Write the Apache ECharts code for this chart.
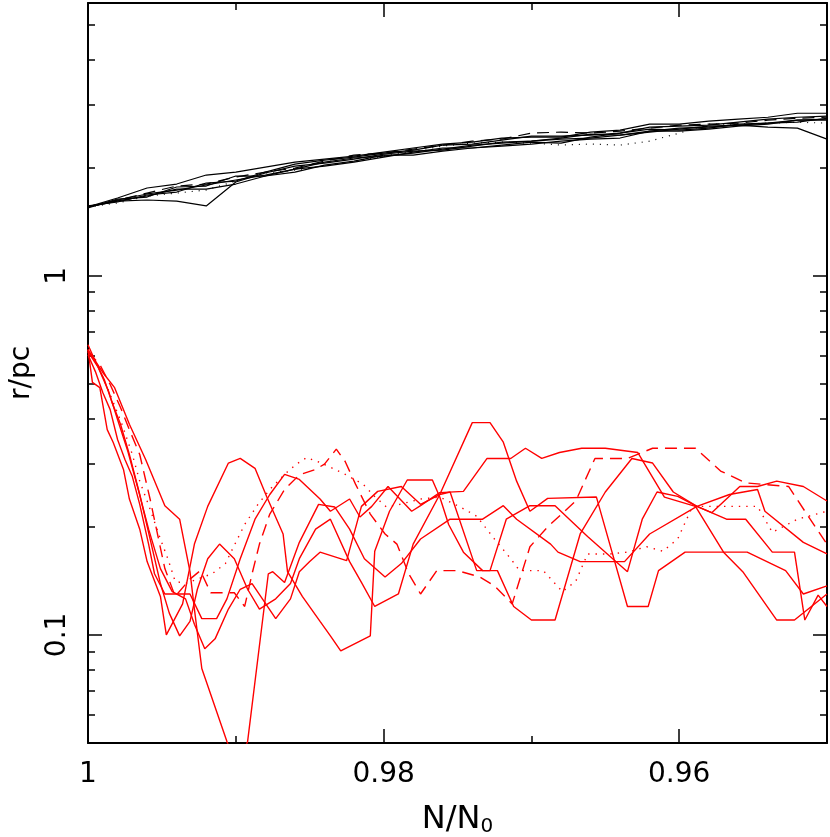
<!DOCTYPE html>
<html>
<head>
<meta charset="utf-8">
<title>r/pc vs N/N0</title>
<script src="https://cdn.jsdelivr.net/npm/echarts@6.0.0/dist/echarts.min.js"></script>
<style>
	html, body { margin: 0; padding: 0; background: #fff; }
	#chart { width: 830px; height: 837px; }
</style>
</head>
<body>
<div id="chart"></div>
<script>
	/* axis ranges and ticks */
	var xRange = [0.95, 1];
	var yRange = [0.05, 5.75];
	var xMajor = [0.98, 0.96];
	var xMinor = [0.99, 0.97];
	var xLabels = [1, 0.98, 0.96];
	var yMajor = [0.1, 1];
	var yMinor = [0.06, 0.07, 0.08, 0.09, 0.2, 0.3, 0.4, 0.5, 0.6, 0.7, 0.8, 0.9, 2, 3, 4, 5];
	var yLabels = [0.1, 1];

	/* upper (black) curves, all on the same N/N0 grid */
	var blackX = [1.000, 0.998, 0.996, 0.994, 0.992, 0.990, 0.988, 0.986, 0.984, 0.982, 0.980, 0.978, 0.976,
		0.974, 0.972, 0.970, 0.968, 0.966, 0.964, 0.962, 0.960, 0.958, 0.956, 0.954, 0.952, 0.950];
	var black1 = [1.555, 1.615, 1.626, 1.615, 1.565, 1.825, 1.933, 2.021, 2.060, 2.113, 2.182, 2.225, 2.239,
		2.298, 2.357, 2.372, 2.403, 2.419, 2.465, 2.529, 2.578, 2.594, 2.627, 2.661, 2.712, 2.730];
	var black2 = [1.555, 1.647, 1.756, 1.801, 1.908, 1.945, 2.008, 2.073, 2.113, 2.154, 2.211, 2.269, 2.327,
		2.357, 2.419, 2.434, 2.434, 2.513, 2.545, 2.644, 2.644, 2.696, 2.730, 2.764, 2.836, 2.836];
	var black3 = [1.555, 1.626, 1.690, 1.733, 1.790, 1.848, 1.908, 1.982, 2.073, 2.128, 2.154, 2.197, 2.254,
		2.312, 2.342, 2.371, 2.419, 2.480, 2.465, 2.513, 2.561, 2.612, 2.627, 2.594, 2.578, 2.403];
	var black4 = [1.545, 1.636, 1.657, 1.767, 1.778, 1.896, 1.896, 1.945, 2.034, 2.086, 2.168, 2.168, 2.225,
		2.269, 2.297, 2.327, 2.371, 2.403, 2.419, 2.528, 2.528, 2.561, 2.612, 2.644, 2.712, 2.712];
	var black5 = [1.565, 1.605, 1.679, 1.711, 1.813, 1.836, 1.945, 2.047, 2.100, 2.141, 2.197, 2.239, 2.312,
		2.327, 2.387, 2.448, 2.448, 2.465, 2.497, 2.594, 2.612, 2.627, 2.678, 2.730, 2.764, 2.783];
	var black6 = [1.555, 1.616, 1.668, 1.744, 1.744, 1.801, 1.896, 1.982, 2.021, 2.073, 2.141, 2.211, 2.269,
		2.269, 2.312, 2.357, 2.342, 2.434, 2.497, 2.561, 2.545, 2.578, 2.644, 2.661, 2.678, 2.746];
	var blackDot = [1.555, 1.595, 1.668, 1.700, 1.733, 1.836, 1.933, 1.970, 2.021, 2.086, 2.154, 2.225, 2.297,
		2.342, 2.357, 2.342, 2.312, 2.327, 2.312, 2.371, 2.497, 2.644, 2.644, 2.661, 2.678, 2.661];
	var blackDash = [1.555, 1.626, 1.700, 1.778, 1.801, 1.884, 1.945, 1.995, 2.086, 2.168, 2.197, 2.254, 2.312,
		2.371, 2.403, 2.497, 2.513, 2.497, 2.528, 2.578, 2.627, 2.644, 2.661, 2.712, 2.746, 2.764];

	/* lower (red) curves, [N/N0, r] */
	var redA = [[1.0000, 0.623], [0.9997, 0.505], [0.9992, 0.488], [0.9987, 0.373], [0.9983, 0.344], [0.9976, 0.289],
		[0.9972, 0.239], [0.9965, 0.197], [0.9960, 0.160], [0.9951, 0.128], [0.9947, 0.100], [0.9936, 0.122],
		[0.9928, 0.179], [0.9919, 0.228], [0.9905, 0.301], [0.9897, 0.310], [0.9887, 0.291], [0.9879, 0.242],
		[0.9868, 0.191], [0.9865, 0.150], [0.9855, 0.128], [0.9843, 0.109], [0.9836, 0.0994], [0.9829, 0.0903],
		[0.9809, 0.0994], [0.9806, 0.171], [0.9796, 0.221], [0.9784, 0.270], [0.9767, 0.270], [0.9762, 0.242],
		[0.9756, 0.203], [0.9746, 0.170], [0.9733, 0.151], [0.9723, 0.151], [0.9712, 0.120], [0.9700, 0.110],
		[0.9684, 0.110], [0.9667, 0.191], [0.9650, 0.250], [0.9632, 0.310], [0.9618, 0.301], [0.9604, 0.250],
		[0.9588, 0.228], [0.9578, 0.219], [0.9559, 0.259], [0.9547, 0.259], [0.9534, 0.268], [0.9516, 0.259],
		[0.9500, 0.236]];
	var redB = [[1.0000, 0.643], [0.9995, 0.577], [0.9989, 0.514], [0.9984, 0.447], [0.9978, 0.386], [0.9972, 0.318],
		[0.9965, 0.246], [0.9958, 0.185], [0.9951, 0.139], [0.9945, 0.115], [0.9938, 0.0994], [0.9931, 0.109],
		[0.9926, 0.134], [0.9919, 0.163], [0.9911, 0.179], [0.9901, 0.163], [0.9892, 0.134], [0.9884, 0.118],
		[0.9873, 0.126], [0.9863, 0.139], [0.9857, 0.163], [0.9846, 0.197], [0.9836, 0.210], [0.9823, 0.160],
		[0.9815, 0.140], [0.9806, 0.120], [0.9790, 0.130], [0.9780, 0.179], [0.9762, 0.246], [0.9740, 0.390],
		[0.9728, 0.390], [0.9719, 0.344], [0.9710, 0.268], [0.9701, 0.221], [0.9689, 0.240], [0.9656, 0.242],
		[0.9635, 0.120], [0.9621, 0.120], [0.9614, 0.151], [0.9596, 0.170], [0.9554, 0.170], [0.9528, 0.151],
		[0.9516, 0.130], [0.9500, 0.137]];
	var redC = [[1.0000, 0.603], [0.9995, 0.541], [0.9990, 0.473], [0.9985, 0.424], [0.9980, 0.350], [0.9975, 0.308],
		[0.9970, 0.276], [0.9965, 0.231], [0.9959, 0.179], [0.9955, 0.148], [0.9948, 0.130], [0.9931, 0.130],
		[0.9923, 0.111], [0.9913, 0.111], [0.9906, 0.126], [0.9897, 0.163], [0.9887, 0.210], [0.9877, 0.246],
		[0.9867, 0.280], [0.9857, 0.271], [0.9843, 0.239], [0.9836, 0.221], [0.9823, 0.239], [0.9816, 0.213],
		[0.9808, 0.228], [0.9797, 0.259], [0.9781, 0.221], [0.9775, 0.229], [0.9762, 0.249], [0.9746, 0.251],
		[0.9730, 0.310], [0.9714, 0.310], [0.9704, 0.331], [0.9693, 0.310], [0.9681, 0.322], [0.9666, 0.331],
		[0.9650, 0.331], [0.9628, 0.322], [0.9610, 0.242], [0.9589, 0.228], [0.9570, 0.170], [0.9557, 0.150],
		[0.9534, 0.110], [0.9522, 0.110], [0.9500, 0.130]];
	var redD = [[1.0000, 0.615], [0.9993, 0.555], [0.9986, 0.476], [0.9980, 0.398], [0.9973, 0.324], [0.9966, 0.254],
		[0.9959, 0.197], [0.9951, 0.153], [0.9943, 0.132], [0.9934, 0.126], [0.9928, 0.107], [0.9921, 0.0915],
		[0.9914, 0.0975], [0.9905, 0.118], [0.9897, 0.134], [0.9889, 0.139], [0.9882, 0.126], [0.9873, 0.111],
		[0.9863, 0.126], [0.9857, 0.150], [0.9850, 0.160], [0.9843, 0.170], [0.9825, 0.161], [0.9815, 0.228],
		[0.9804, 0.251], [0.9788, 0.259], [0.9775, 0.231], [0.9762, 0.246], [0.9755, 0.250], [0.9737, 0.151],
		[0.9728, 0.151], [0.9717, 0.210], [0.9701, 0.229], [0.9684, 0.229], [0.9662, 0.188], [0.9645, 0.163],
		[0.9635, 0.150], [0.9625, 0.210], [0.9615, 0.250], [0.9601, 0.243], [0.9588, 0.228], [0.9566, 0.246],
		[0.9547, 0.254], [0.9542, 0.221], [0.9516, 0.181], [0.9500, 0.168]];
	var redE = [[1.0000, 0.623], [0.9990, 0.538], [0.9982, 0.488], [0.9972, 0.386], [0.9961, 0.308], [0.9948, 0.229],
		[0.9938, 0.210], [0.9931, 0.150], [0.9928, 0.118], [0.9923, 0.0806], [0.9906, 0.0505], [0.9899, 0.0427],
		[0.9892, 0.0505], [0.9878, 0.148], [0.9875, 0.150], [0.9867, 0.140], [0.9857, 0.181], [0.9844, 0.231],
		[0.9833, 0.227], [0.9823, 0.197], [0.9813, 0.163], [0.9799, 0.145], [0.9788, 0.158], [0.9775, 0.185],
		[0.9755, 0.210], [0.9733, 0.210], [0.9719, 0.229], [0.9710, 0.210], [0.9687, 0.179], [0.9682, 0.170],
		[0.9667, 0.160], [0.9637, 0.160], [0.9620, 0.191], [0.9588, 0.228], [0.9568, 0.210], [0.9555, 0.210],
		[0.9537, 0.170], [0.9522, 0.170], [0.9515, 0.110], [0.9506, 0.129], [0.9500, 0.120]];
	var redDot = [[1.0000, 0.623], [0.9992, 0.548], [0.9985, 0.467], [0.9977, 0.386], [0.9970, 0.318], [0.9965, 0.268],
		[0.9958, 0.224], [0.9951, 0.185], [0.9946, 0.163], [0.9941, 0.141], [0.9934, 0.139], [0.9926, 0.143],
		[0.9916, 0.148], [0.9907, 0.158], [0.9903, 0.171], [0.9894, 0.203], [0.9885, 0.231], [0.9877, 0.254],
		[0.9867, 0.280], [0.9859, 0.299], [0.9852, 0.312], [0.9844, 0.303], [0.9836, 0.293], [0.9826, 0.280],
		[0.9814, 0.263], [0.9806, 0.243], [0.9798, 0.227], [0.9789, 0.231], [0.9775, 0.239], [0.9762, 0.242],
		[0.9748, 0.227], [0.9737, 0.214], [0.9725, 0.185], [0.9714, 0.163], [0.9708, 0.151], [0.9692, 0.151],
		[0.9679, 0.132], [0.9670, 0.141], [0.9662, 0.168], [0.9647, 0.168], [0.9635, 0.170], [0.9622, 0.176],
		[0.9611, 0.171], [0.9601, 0.185], [0.9591, 0.228], [0.9547, 0.228], [0.9537, 0.193], [0.9520, 0.210],
		[0.9500, 0.221]];
	var redDash = [[1.0000, 0.615], [0.9992, 0.566], [0.9985, 0.498], [0.9978, 0.430], [0.9972, 0.373], [0.9965, 0.318],
		[0.9958, 0.239], [0.9953, 0.191], [0.9948, 0.153], [0.9941, 0.128], [0.9931, 0.143], [0.9924, 0.151],
		[0.9917, 0.131], [0.9901, 0.131], [0.9894, 0.120], [0.9889, 0.148], [0.9884, 0.179], [0.9877, 0.217],
		[0.9867, 0.254], [0.9857, 0.279], [0.9846, 0.289], [0.9840, 0.299], [0.9832, 0.329], [0.9826, 0.304],
		[0.9819, 0.263], [0.9809, 0.217], [0.9799, 0.191], [0.9791, 0.179], [0.9783, 0.148], [0.9775, 0.130],
		[0.9764, 0.151], [0.9750, 0.151], [0.9735, 0.145], [0.9725, 0.137], [0.9713, 0.122], [0.9701, 0.176],
		[0.9689, 0.200], [0.9670, 0.236], [0.9657, 0.310], [0.9635, 0.310], [0.9618, 0.331], [0.9589, 0.331],
		[0.9572, 0.286], [0.9555, 0.265], [0.9526, 0.259], [0.9514, 0.218], [0.9500, 0.179]];

	var FONT = 'DejaVu Sans';
	var myChart = echarts.init(document.getElementById('chart'), null, { renderer: 'canvas' });

	/*one x axis: a tick set on top or bottom*/
	function xAxisPart(pos, ticks, len, withLine, withLabel) {
		return {
			type: 'value',
			position: pos,
			inverse: true,
			min: xRange[0],
			max: xRange[1],
			axisLine: { show: withLine, onZero: false, lineStyle: { color: '#000', width: 2 } },
			axisTick: { show: true, inside: true, length: len, customValues: ticks, lineStyle: { color: '#000', width: 1.5 } },
			axisLabel: withLabel ? {
				show: true,
				customValues: xLabels,
				margin: 18,
				color: '#000',
				fontFamily: FONT,
				fontSize: 28
			} : { show: false },
			splitLine: { show: false }
		};
	}

	/*one y axis: a tick set on left or right*/
	function yAxisPart(pos, ticks, len, withLine, withLabel) {
		return {
			type: 'log',
			logBase: 10,
			position: pos,
			min: yRange[0],
			max: yRange[1],
			axisLine: { show: withLine, onZero: false, lineStyle: { color: '#000', width: 2 } },
			axisTick: { show: true, inside: true, length: len, customValues: ticks, lineStyle: { color: '#000', width: 1.5 } },
			axisLabel: withLabel ? {
				show: true,
				customValues: yLabels,
				rotate: 90,
				margin: 16,
				color: '#000',
				fontFamily: FONT,
				fontSize: 28,
				formatter: function(v) { return String(v); }
			} : { show: false },
			splitLine: { show: false }
		};
	}

	var xAxes = [
		xAxisPart('bottom', xMajor, 14, true, true),
		xAxisPart('bottom', xMinor, 7, false, false),
		xAxisPart('top', xMajor, 14, true, false),
		xAxisPart('top', xMinor, 7, false, false)
	];
	xAxes[0].name = '{a|N/N}{b|0}';
	xAxes[0].nameLocation = 'middle';
	xAxes[0].nameGap = 60;
	xAxes[0].nameTextStyle = {
		rich: {
			a: { fontFamily: FONT, fontSize: 32, color: '#000' },
			b: { fontFamily: FONT, fontSize: 20, color: '#000', verticalAlign: 'bottom', padding: [14, 0, 0, 0] }
		}
	};

	var yAxes = [
		yAxisPart('left', yMajor, 14, true, true),
		yAxisPart('left', yMinor, 7, false, false),
		yAxisPart('right', yMajor, 14, true, false),
		yAxisPart('right', yMinor, 7, false, false)
	];
	yAxes[0].name = 'r/pc';
	yAxes[0].nameLocation = 'middle';
	yAxes[0].nameGap = 52;
	yAxes[0].nameTextStyle = { fontFamily: FONT, fontSize: 28, color: '#000' };

	function line(data, color, type, width) {
		return {
			type: 'line',
			data: data,
			xAxisIndex: 0,
			yAxisIndex: 0,
			symbol: 'none',
			showSymbol: false,
			clip: true,
			silent: true,
			lineStyle: { color: color, width: width || 1.2, type: type || 'solid' }
		};
	}

	function onGrid(ys) {
		return blackX.map(function(x, i) { return [x, ys[i]]; });
	}

	var series = [
		line(onGrid(black1), '#000'),
		line(onGrid(black2), '#000'),
		line(onGrid(black3), '#000'),
		line(onGrid(black4), '#000'),
		line(onGrid(black5), '#000'),
		line(onGrid(black6), '#000'),
		line(onGrid(blackDot), '#000', [1, 6]),
		line(onGrid(blackDash), '#000', [12, 7]),
		line(redA, '#ff0000', 'solid', 1.4),
		line(redB, '#ff0000', 'solid', 1.4),
		line(redC, '#ff0000', 'solid', 1.4),
		line(redD, '#ff0000', 'solid', 1.4),
		line(redE, '#ff0000', 'solid', 1.4),
		line(redDot, '#ff0000', [1.4, 6], 1.4),
		line(redDash, '#ff0000', [12, 7], 1.4)
	];

	var option = {
		animation: false,
		backgroundColor: '#fff',
		grid: { left: 88, right: 3, top: 3, bottom: 94, outerBoundsMode: 'none', containLabel: false },
		xAxis: xAxes,
		yAxis: yAxes,
		series: series
	};
	myChart.setOption(option);
</script>
</body>
</html>
